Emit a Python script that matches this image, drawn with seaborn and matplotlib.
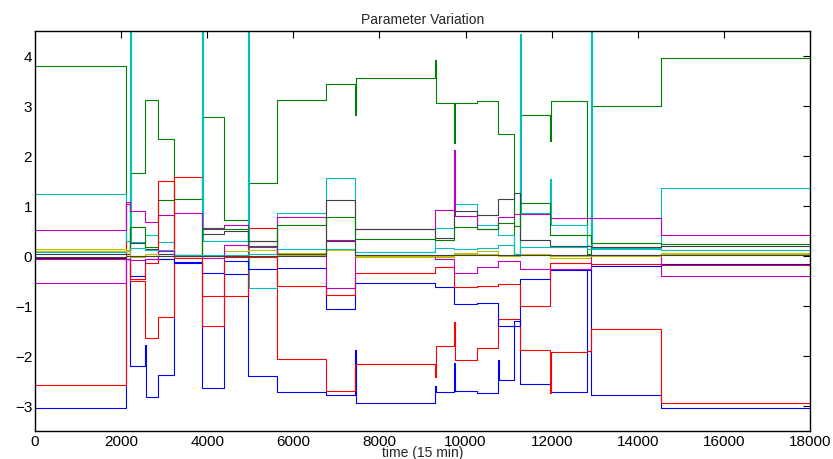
import numpy as np
import pandas as pd
import seaborn as sns
import matplotlib
matplotlib.use("Agg")
import matplotlib.pyplot as plt

# segment boundaries (time, 15 min samples)
breaks = [0, 2107, 2213, 2555, 2864, 3228, 3879, 4390, 4954, 5614, 6759, 7432,
          9283, 9739, 10273, 10754, 11125, 11265, 11962, 12813, 12906, 14533, 18000]

# one value per segment for every parameter
b1 = [-3.03, -0.06, -2.19, -2.81, -2.37, -0.12, -2.63, -0.35, -2.40, -2.71, -2.77,
      -2.94, -2.72, -2.69, -2.73, -2.47, -1.30, -2.56, -2.71, -0.26, -2.77, -3.03]
g1 = [3.80, 0.10, 1.66, 3.13, 2.34, 1.14, 2.79, 0.73, 1.47, 3.13, 3.45,
      3.57, 3.07, 3.07, 3.10, 2.45, 0.04, 2.83, 3.10, 0.05, 3.01, 3.96]
r1 = [-2.58, 1.05, -0.49, -1.63, -1.21, 1.59, -1.39, -0.79, 0.57, -2.05, -2.69,
      -2.15, -1.80, -2.08, -1.83, -1.25, -1.25, -1.88, -1.91, -1.90, -1.46, -2.93]
c1 = [1.25, 0.30, 0.28, 0.43, 0.29, 0.03, 0.31, 0.31, -0.63, 0.87, 1.56,
      0.09, 0.57, 1.04, 0.63, 0.43, 0.00, 0.87, 0.63, 0.20, 0.16, 1.37]
m1 = [0.52, 1.08, 0.91, 0.69, 0.83, 0.86, 0.55, 0.62, 0.30, 0.79, 0.32,
      0.54, 0.92, 0.81, 0.54, 0.79, 0.84, 0.85, 0.77, 0.77, 0.77, 0.43]
y1 = [0.14, 0.12, -0.01, 0.05, -0.06, 0.02, 0.00, 0.11, 0.12, 0.06, 0.15,
      -0.02, -0.01, 0.07, 0.10, 0.02, 0.00, 0.04, -0.03, -0.03, 0.02, 0.07]
k1 = [0.05, 0.05, 0.27, 0.15, 0.04, 0.03, 0.45, 0.51, 0.31, 0.04, 1.12,
      0.55, 0.37, 0.91, 0.83, 1.14, 1.27, 0.33, 0.21, 0.20, 0.19, 0.20]
b2 = [-0.03, -0.05, -0.39, -0.06, -0.05, -0.13, -0.33, -0.09, -0.26, -0.23, -1.05,
      -0.53, -0.61, -0.96, -0.93, -1.40, -1.40, -0.45, -0.27, -0.27, -0.19, -0.15]
g2 = [0.10, 0.10, 0.59, 0.19, 1.13, 0.03, 0.57, 0.55, 0.20, 0.63, 0.79,
      0.35, 0.33, 0.59, 0.55, 0.67, 0.60, 1.07, 0.43, 0.43, 0.26, 0.24]
r2 = [-0.05, -0.05, -0.45, -0.13, 1.51, -0.03, -0.79, -0.01, -0.02, -0.59, -0.77,
      -0.33, -0.21, -0.61, -0.60, -0.55, -0.55, -0.99, -0.13, -0.13, -0.15, -0.17]
c2 = [0.08, 0.10, 0.17, 0.13, 0.13, 0.02, 0.03, 0.03, 0.04, 0.15, 0.15,
      0.08, 0.16, 0.15, 0.16, 0.23, 0.05, 0.19, 0.19, 0.15, 0.14, 0.12]
m2 = [-0.53, -0.06, -0.08, -0.06, 0.10, 0.00, -0.03, 0.22, 0.18, 0.02, -0.63,
      0.03, -0.05, -0.34, -0.21, -0.09, -0.09, -0.26, -0.26, -0.26, 0.02, -0.40]
y2 = [0.11, 0.10, 0.00, 0.04, 0.00, 0.01, 0.00, 0.00, 0.00, 0.02, 0.12,
      0.00, 0.00, 0.04, 0.05, 0.00, 0.00, 0.02, 0.00, 0.00, 0.00, 0.05]
k2 = [-0.02, 0.00, 0.00, 0.00, 0.00, 0.01, 0.00, 0.00, 0.00, 0.00, 0.30,
      0.02, 0.02, 0.03, 0.03, 0.03, 0.03, 0.03, 0.03, 0.02, 0.02, 0.02]

names = ["b1", "g1", "r1", "c1", "m1", "y1", "k1", "b2", "g2", "r2", "c2", "m2", "y2", "k2"]
values = [b1, g1, r1, c1, m1, y1, k1, b2, g2, r2, c2, m2, y2, k2]

# short transients at switching instants
spike_series = ["c1", "c1", "c1", "c1", "c1", "c1",
                "g1", "g1", "g1", "g1",
                "b1", "b1", "b1", "b1", "b1",
                "r1", "r1", "r1", "m1"]
spike_time = [2213, 3879, 4954, 11265, 12906, 11962,
              7432, 9283, 9739, 11962,
              2555, 7432, 9283, 9739, 10754,
              9283, 9739, 11962, 9739]
spike_value = [5.0, 5.0, 5.0, 4.45, 5.0, 1.55,
               2.82, 3.93, 2.27, 2.31,
               -1.78, -1.88, -2.59, -2.14, -2.08,
               -2.41, -1.32, -2.73, 2.13]

# matlab-ish line colours
colors = {"b": (0, 0, 1), "g": (0, 0.5, 0), "r": (1, 0, 0), "c": (0, 0.75, 0.75),
          "m": (0.75, 0, 0.75), "y": (0.75, 0.75, 0), "k": (0.25, 0.25, 0.25)}

rows = []
for name, vals in zip(names, values):
    spikes = {t: v for s, t, v in zip(spike_series, spike_time, spike_value) if s == name}
    for i, v in enumerate(vals):
        t0 = breaks[i]
        if t0 in spikes:
            rows.append((name, t0, spikes[t0]))
            rows.append((name, t0 + 20, v))
        else:
            rows.append((name, t0, v))
    rows.append((name, breaks[-1], vals[-1]))

df = pd.DataFrame(rows, columns=["param", "time", "value"])

sns.set_style("white")
plt.rcParams["font.family"] = ["Liberation Sans", "DejaVu Sans"]

fig = plt.figure(figsize=(8.33, 4.6), dpi=100)
ax = fig.add_axes([35 / 833, 28 / 460, 775 / 833, 400 / 460])

palette = {n: colors[n[0]] for n in names}
sns.lineplot(data=df, x="time", y="value", hue="param", hue_order=names,
             palette=palette, estimator=None, sort=False, drawstyle="steps-post",
             linewidth=0.8, legend=False, ax=ax)

ax.set_xlim(0, 18000)
ax.set_ylim(-3.5, 4.5)
ax.set_xticks(np.arange(0, 18001, 2000))
ax.set_yticks(np.arange(-3, 5, 1))
ax.tick_params(direction="in", top=True, right=True, length=5, width=0.8,
               labelsize=11, colors="black", pad=2)
for sp in ax.spines.values():
    sp.set_visible(True)
    sp.set_color("black")
    sp.set_linewidth(1.0)
ax.set_title("Parameter Variation", fontsize=10, pad=6)
ax.set_xlabel("time (15 min)", fontsize=10, labelpad=-2)
ax.set_ylabel("")

fig.savefig("out.png", dpi=100)
